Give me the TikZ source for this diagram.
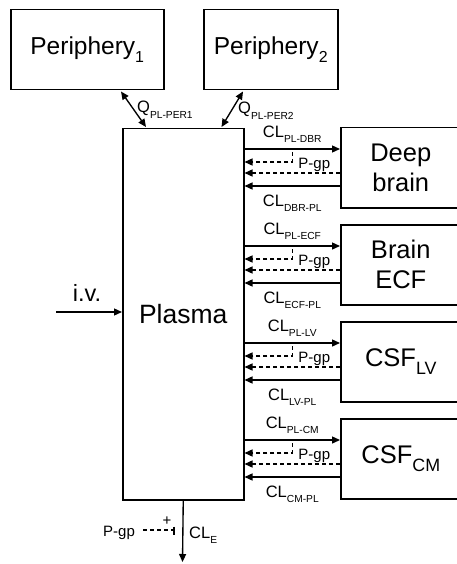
\documentclass[tikz,border=0pt]{standalone}
\usepackage{fontspec}
\setmainfont{Liberation Sans}
\usetikzlibrary{arrows.meta,calc}
\newcommand\lsub[2][0.62]{\raisebox{-0.32em}{\scalebox{#1}{#2}}}
\begin{document}
\begin{tikzpicture}[x=1pt,y=-1pt,
  box/.style={draw, line width=1.5pt, rectangle, inner sep=0pt, anchor=north west, align=center},
  tipe/.style={-{Triangle[length=8pt,width=7pt]}},
  dtip/.style={{Triangle[length=8pt,width=7pt]}-{Triangle[length=8pt,width=7pt]}},
  ln/.style={line width=1.35pt},
  dsh/.style={dash pattern=on 4pt off 3pt},
  lbl/.style={font=\fontsize{16.5}{18}\selectfont, inner sep=0pt},
  pg/.style={font=\fontsize{15}{16}\selectfont, inner sep=0pt},
  big/.style={font=\fontsize{25.5}{30}\selectfont},
]
\useasboundingbox (0,0) rectangle (457,564);
% boxes
\node[box, minimum width=153pt, minimum height=80pt, font=\fontsize{24.5}{26}\selectfont] (per1) at (10,9) {Periphery\lsub[0.65]{1}};
\node[box, minimum width=134pt, minimum height=80pt, font=\fontsize{24.5}{26}\selectfont] (per2) at (203,9) {Periphery\lsub[0.65]{2}};
\node[box, minimum width=121pt, minimum height=371pt, font=\fontsize{26.5}{30}\selectfont] (plasma) at (122,128) {Plasma};
\node[box, minimum width=120pt, minimum height=80pt, big] (db) at (340,127) {Deep\\brain};
\node[box, minimum width=120pt, minimum height=80pt, big] (ecf) at (340,224) {Brain\\ECF};
\node[box, minimum width=120pt, minimum height=80pt, big] (lv) at (340,321) {CSF\lsub[0.7]{LV}};
\node[box, minimum width=120pt, minimum height=80pt, big] (cm) at (340,418) {CSF\lsub[0.7]{CM}};
% periphery exchange
\draw[ln,dtip] ([xshift=111pt,yshift=-1pt]per1.south west) -- ([xshift=24pt,yshift=1pt]plasma.north west);
\draw[ln,dtip] ([xshift=40pt,yshift=-1pt]per2.south west) -- ([xshift=-23pt,yshift=1pt]plasma.north east);
\node[lbl, anchor=base west] (q1) at (137,113) {Q\lsub{PL-PER1}};
\node[lbl, anchor=base west] (q2) at (238,114) {Q\lsub{PL-PER2}};
% i.v.
\coordinate (ivs) at (56,312);
\draw[ln,tipe] (ivs) -- (plasma.west |- ivs);
\node[font=\fontsize{23.5}{26}\selectfont, inner sep=0pt] (iv) at (87,293) {i.v.};
% brain compartments
\foreach \b/\o/\i in {db/PL-DBR/DBR-PL, ecf/PL-ECF/ECF-PL, lv/PL-LV/LV-PL, cm/PL-CM/CM-PL} {
  \coordinate (\b1) at ([yshift=-22pt]\b.north west);
  \coordinate (\b2) at ([yshift=-35pt]\b.north west);
  \coordinate (\b3) at ([yshift=-46pt]\b.north west);
  \coordinate (\b4) at ([yshift=-59pt]\b.north west);
  \coordinate (\b m) at ($(plasma.east |- \b1)!0.5!(\b1)$);
  \coordinate (\b n) at ($(plasma.east |- \b4)!0.5!(\b4)$);
  \draw[ln,tipe] (plasma.east |- \b1) -- (\b1);
  \draw[ln,dsh,tipe] ([yshift=-3pt]\b m) |- (plasma.east |- \b2);
  \draw[ln,dsh,tipe] (\b3) -- (plasma.east |- \b3);
  \draw[ln,tipe] (\b4) -- (plasma.east |- \b4);
  \node[lbl, anchor=base] (\b out) at ([yshift=11.5pt]\b m) {CL\lsub{\o}};
  \node[lbl, anchor=base] (\b in) at ([yshift=-20pt]\b n) {CL\lsub{\i}};
  \node[pg, anchor=base west] (\b pg) at ([xshift=6pt,yshift=-6pt]\b m |- \b2) {P-gp};
}
% elimination
\coordinate (cle) at (182.5,562);
\draw[ln,tipe] (plasma.south) -- (cle);
\node[pg, anchor=base west] (pge) at (103,536) {P-gp};
\coordinate (bar) at (174,530);
\draw[ln,dsh] ([xshift=8pt]pge.east |- bar) -- (bar);
\draw[line width=1.1pt] ([yshift=3.5pt]bar) -- ([yshift=-4.5pt]bar);
\node[pg, inner sep=0pt] (plus) at (167,521) {+};
\node[lbl, anchor=base west] (cle lbl) at (189,538) {CL\lsub{E}};
\end{tikzpicture}
\end{document}
